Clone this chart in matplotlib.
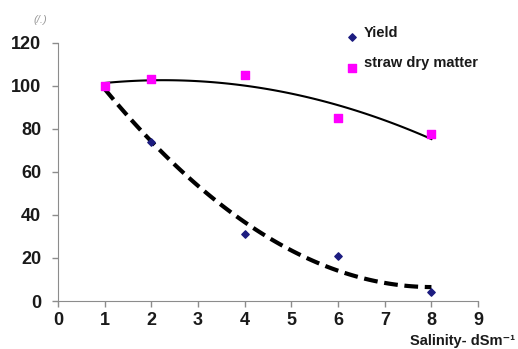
import numpy as np
import matplotlib
matplotlib.use("Agg")
import matplotlib.pyplot as plt

plt.rcParams['font.family'] = ['Liberation Sans', 'DejaVu Sans']

salinity = [1, 2, 4, 6, 8]
yield_pct = [100, 74, 31, 21, 4]
straw_pct = [100, 103, 105, 85, 77.5]

fig = plt.figure(figsize=(5.18, 3.49), dpi=100)
ax = fig.add_axes([0.112, 0.1375, 0.811, 0.7395])

# trend lines (2nd order polynomial, like excel)
xs = np.linspace(1, 8, 100)
py = np.polyfit(salinity, yield_pct, 2)
ps = np.polyfit(salinity, straw_pct, 2)
ax.plot(xs, np.polyval(py, xs), 'k--', lw=3, dashes=(3.3, 1.6))
ax.plot(xs, np.polyval(ps, xs), 'k-', lw=1.5)

ax.scatter(salinity, yield_pct, marker='D', s=14, color='#1c1c80', zorder=3)
ax.scatter(salinity, straw_pct, marker='s', s=34, color='#ff00ff', zorder=3)

ax.set_xlim(0, 9)
ax.set_ylim(0, 120)
ax.set_xticks(range(0, 10))
ax.set_yticks(range(0, 121, 20))
for s in ['top', 'right']:
    ax.spines[s].set_visible(False)
for s in ['left', 'bottom']:
    ax.spines[s].set_color('#8c8c8c')
ax.tick_params(colors='#8c8c8c', labelcolor='#1a1a1a', length=4, width=1)
for lab in ax.get_xticklabels() + ax.get_yticklabels():
    lab.set_fontsize(13)
    lab.set_fontweight('bold')
ax.tick_params(axis='x', pad=4)
ax.tick_params(axis='y', pad=8)

fig.text(40 / 518, 1 - 20 / 349, '(/.)', fontsize=8, color='#999999', ha='center',
         va='center', style='italic')
fig.text(0.995, 0.012, 'Salinity- dSm\u207b\u00b9', fontsize=10.5, fontweight='bold',
         color='#1a1a1a', ha='right')

# legend
ax.scatter([6.3], [122.8], marker='D', s=14, color='#1c1c80', clip_on=False)
ax.scatter([6.3], [108.4], marker='s', s=34, color='#ff00ff', clip_on=False)
ax.text(6.55, 124.7, 'Yield', fontsize=10.5, fontweight='bold', va='center', color='#1a1a1a')
ax.text(6.55, 110.7, 'straw dry matter', fontsize=10.5, fontweight='bold', va='center',
        color='#1a1a1a')

plt.savefig("out.png", dpi=100)
